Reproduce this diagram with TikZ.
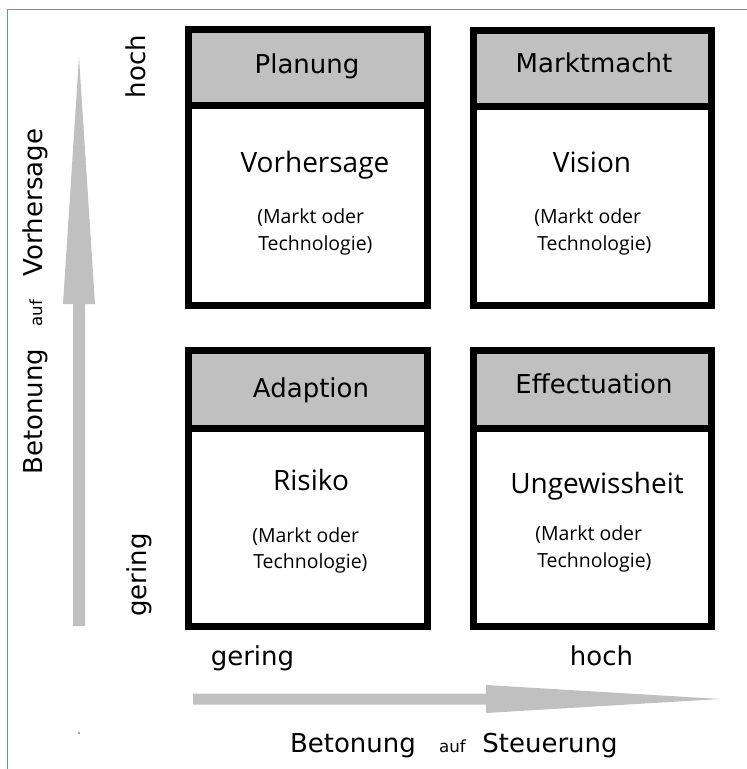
\documentclass[tikz,border=0pt]{standalone}
\usepackage{fontspec}
\setmainfont{DejaVu Sans}
\newfontfamily\hdrfont{DejaVu Sans}
\newfontfamily\bodyfont{Open Sans}
\definecolor{headgray}{RGB}{192,192,192}
\definecolor{arrowgray}{RGB}{192,192,192}
\definecolor{bordercol}{RGB}{80,150,220}
\begin{document}
\begin{tikzpicture}[x=0.75pt,y=-0.75pt,
  boxline/.style={line width=5.25pt, draw=black, line join=miter},
  hdr/.style={font=\hdrfont\fontsize{19.5}{23}\selectfont, anchor=base, inner sep=0pt},
  big/.style={font=\bodyfont\fontsize{21}{25}\selectfont, anchor=base, inner sep=0pt},
  small/.style={font=\bodyfont\fontsize{14.6}{18}\selectfont, anchor=base west, inner sep=0pt},
  axis/.style={font=\hdrfont\fontsize{19.5}{23}\selectfont, anchor=base, inner sep=0pt},
  auflabel/.style={font=\hdrfont\fontsize{12.5}{15}\selectfont, anchor=base, inner sep=0pt},
  arrowfill/.style={fill=arrowgray, draw=none}]
\useasboundingbox (0,0) rectangle (747,769);
% frame
\draw[bordercol, line width=1pt] (7.5,769) -- (7.5,9.5) -- (747,9.5);

% boxes
\fill[headgray] (188.5,29.5) rectangle (427.5,105.5);
\draw[boxline] (188.5,29.5) rectangle (427.5,305.5);
\draw[boxline] (188.5,105.5) -- (427.5,105.5);

\fill[headgray] (473.5,30) rectangle (711.5,106.5);
\draw[boxline] (473.5,30) rectangle (711.5,305.5);
\draw[boxline] (473.5,106.5) -- (711.5,106.5);

\fill[headgray] (188.5,350.5) rectangle (427.5,428);
\draw[boxline] (188.5,350.5) rectangle (427.5,626.5);
\draw[boxline] (188.5,428) -- (427.5,428);

\fill[headgray] (473.5,350.5) rectangle (711.5,428);
\draw[boxline] (473.5,350.5) rectangle (711.5,626.5);
\draw[boxline] (473.5,428) -- (711.5,428);

% box texts
\node[hdr] (h1) at (307,73) {Planung};
\node[big] (m1) at (315,172) {Vorhersage};
\node[small] (s1a) at (257,223) {(Markt oder};
\node[small] (s1b) at (258,250) {Technologie)};

\node[hdr] (h2) at (594,72) {Marktmacht};
\node[big] (m2) at (592,172) {Vision};
\node[small] (s2a) at (534,223) {(Markt oder};
\node[small] (s2b) at (537,250) {Technologie)};

\node[hdr] (h3) at (311,397) {Adaption};
\node[big] (m3) at (311,490) {Risiko};
\node[small] (s3a) at (252,542) {(Markt oder};
\node[small] (s3b) at (253,568) {Technologie)};

\node[hdr] (h4) at (594,393) {Effectuation};
\node[big] (m4) at (597,493) {Ungewissheit};
\node[small] (s4a) at (535,540) {(Markt oder};
\node[small] (s4b) at (537,567) {Technologie)};

% axis labels
\node[axis, rotate=90] (yhoch) at (145,66.5) {hoch};
\node[axis, rotate=90] (ygering) at (146,575) {gering};
\node[axis] (xgering) at (252.5,665) {gering};
\node[axis] (xhoch) at (601.5,665) {hoch};

\node[axis, rotate=90] (yb) at (42,411.5) {Betonung};
\node[auflabel, rotate=90] (ya) at (42,313) {auf};
\node[axis, rotate=90] (yv) at (42,202.5) {Vorhersage};

\node[axis] (xb) at (353,752) {Betonung};
\node[auflabel] (xa) at (452.5,752) {auf};
\node[axis] (xs) at (550,752) {Steuerung};

% arrows
\fill[arrowgray] (73,626) -- (73,304) -- (63,304) -- (79,57) -- (95,304) -- (85,304) -- (85,626) -- cycle;
\fill[arrowgray] (193,693.5) -- (486,693.5) -- (486,685) -- (720,699) -- (486,713) -- (486,704.5) -- (193,704.5) -- cycle;

% stray dot
\fill[black!70] (79,733) circle (0.9);
\end{tikzpicture}
\end{document}
